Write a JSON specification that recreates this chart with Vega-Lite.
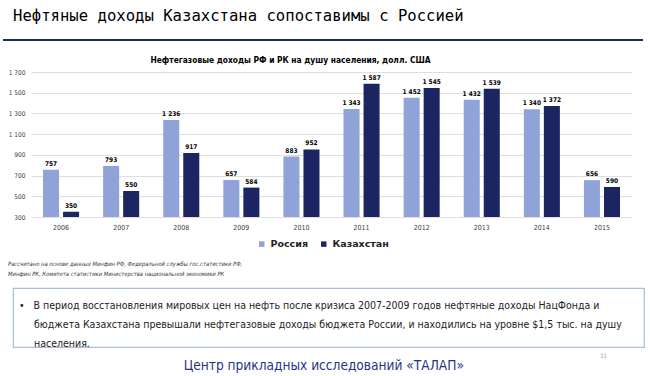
{
  "$schema": "https://vega.github.io/schema/vega-lite/v6.json",
  "background": "white",
  "padding": {"left": 3, "top": 9, "right": 7, "bottom": 0},
  "config": {
    "locale": {"number": {"decimal": ",", "thousands": " ", "grouping": [3], "currency": ["$", ""]}},
    "view": {"stroke": null},
    "font": "DejaVu Sans Condensed"
  },
  "title": {
    "text": "Центр прикладных исследований «ТАЛАП»",
    "orient": "bottom",
    "anchor": "middle",
    "offset": 0,
    "font": "Liberation Sans Narrow, DejaVu Sans Condensed",
    "fontSize": 13.6,
    "fontWeight": "normal",
    "color": "#1f3388"
  },
  "columns": 1,
  "spacing": 0,
  "resolve": {"legend": {"color": "independent"}},
  "concat": [
    {
      "width": 640,
      "height": 2,
      "view": {"fill": "#1c2772", "stroke": null},
      "title": {
        "text": "Нефтяные доходы Казахстана сопоставимы с Россией",
        "anchor": "start",
        "frame": "group",
        "dx": 10,
        "offset": 9,
        "font": "DejaVu Sans Mono",
        "fontSize": 15.6,
        "fontWeight": "normal",
        "color": "#000000"
      },
      "data": {"values": [{"t": ""}]},
      "mark": {"type": "text"},
      "encoding": {"text": {"field": "t"}}
    },
    {
      "width": 629,
      "height": 145,
      "title": {
        "text": "\u00a0",
        "fontSize": 6,
        "subtitle": "Нефтегазовые доходы РФ и РК на душу населения, долл. США",
        "subtitleFont": "DejaVu Sans Condensed",
        "subtitleFontWeight": "bold",
        "subtitleFontSize": 8.4,
        "subtitleColor": "#000000",
        "subtitlePadding": 4,
        "anchor": "middle",
        "frame": "group",
        "dx": -27,
        "offset": 5
      },
      "data": {
        "values": [
          {"year": "2006", "country": "Россия", "value": 757},
          {"year": "2006", "country": "Казахстан", "value": 350},
          {"year": "2007", "country": "Россия", "value": 793},
          {"year": "2007", "country": "Казахстан", "value": 550},
          {"year": "2008", "country": "Россия", "value": 1236},
          {"year": "2008", "country": "Казахстан", "value": 917},
          {"year": "2009", "country": "Россия", "value": 657},
          {"year": "2009", "country": "Казахстан", "value": 584},
          {"year": "2010", "country": "Россия", "value": 883},
          {"year": "2010", "country": "Казахстан", "value": 952},
          {"year": "2011", "country": "Россия", "value": 1343},
          {"year": "2011", "country": "Казахстан", "value": 1587},
          {"year": "2012", "country": "Россия", "value": 1452},
          {"year": "2012", "country": "Казахстан", "value": 1545},
          {"year": "2013", "country": "Россия", "value": 1432},
          {"year": "2013", "country": "Казахстан", "value": 1539},
          {"year": "2014", "country": "Россия", "value": 1340},
          {"year": "2014", "country": "Казахстан", "value": 1372},
          {"year": "2015", "country": "Россия", "value": 656},
          {"year": "2015", "country": "Казахстан", "value": 590}
        ]
      },
      "encoding": {
        "x": {
          "field": "year",
          "type": "ordinal",
          "scale": {"range": [28, 629], "paddingInner": 0.4, "paddingOuter": 0.2},
          "axis": {"title": null, "labelAngle": 0, "domain": false, "ticks": false, "labelPadding": 6, "labelFontSize": 7, "labelColor": "#404040"}
        },
        "xOffset": {"field": "country", "sort": ["Россия", "Казахстан"], "scale": {"paddingInner": 0.2, "paddingOuter": 0}},
        "y": {
          "field": "value",
          "type": "quantitative",
          "scale": {"domain": [300, 1700], "zero": false, "nice": false},
          "axis": {"title": null, "offset": -28, "values": [300, 500, 700, 900, 1100, 1300, 1500, 1700], "format": ",d", "grid": true, "gridColor": "#dedede", "domain": false, "ticks": false, "labelPadding": 6, "labelFontSize": 6.5, "labelColor": "#404040"}
        }
      },
      "layer": [
        {
          "mark": {"type": "bar"},
          "encoding": {
            "y2": {"datum": 300},
            "color": {
              "field": "country",
              "type": "nominal",
              "sort": ["Россия", "Казахстан"],
              "scale": {"domain": ["Россия", "Казахстан"], "range": ["#8fa3d8", "#1b2562"]},
              "legend": {
                "orient": "none",
                "legendX": 243,
                "legendY": 156,
                "direction": "horizontal",
                "title": null,
                "symbolType": "square",
                "symbolSize": 30,
                "symbolStrokeWidth": 0,
                "labelFont": "DejaVu Sans",
                "labelFontWeight": "bold",
                "labelFontSize": 9.5,
                "labelColor": "#222222",
                "columnPadding": 10,
                "labelOffset": 4,
                "padding": 11
              }
            }
          }
        },
        {
          "mark": {"type": "text", "baseline": "bottom", "dy": -3, "fontSize": 6.5, "fontWeight": "bold", "color": "#000000"},
          "encoding": {
            "text": {"field": "value", "type": "quantitative", "format": ",d"}
          }
        }
      ]
    },
    {
      "title": {
        "text": ["Рассчитано на основе данных Минфин РФ, Федеральной службы гос.статистики РФ,", "Минфин РК, Комитета статистики Министерства национальной экономики РК"],
        "anchor": "start",
        "frame": "group",
        "dx": 5,
        "offset": 11,
        "font": "DejaVu Sans Condensed",
        "fontStyle": "italic",
        "fontWeight": "normal",
        "fontSize": 5.8,
        "lineHeight": 10,
        "color": "#333333"
      },
      "spacing": 0,
      "hconcat": [
        {
          "width": 9,
          "height": 59,
          "data": {"values": [{"t": ""}]},
          "mark": {"type": "text"},
          "encoding": {"text": {"field": "t"}}
        },
        {
          "width": 631,
          "height": 59,
          "view": {"stroke": "#a9bddf", "strokeWidth": 1.2, "fill": "white"},
          "title": {
            "text": [
              "•\u00a0\u00a0\u00a0В период восстановления мировых цен на нефть после кризиса 2007-2009 годов нефтяные доходы НацФонда и",
              "\u200b\u00a0\u00a0\u00a0\u00a0\u00a0бюджета Казахстана превышали нефтегазовые доходы бюджета России, и находились на уровне $1,5 тыс. на душу",
              "\u200b\u00a0\u00a0\u00a0\u00a0\u00a0населения."
            ],
            "anchor": "start",
            "frame": "group",
            "dx": 6,
            "offset": -61,
            "font": "DejaVu Sans Condensed",
            "fontSize": 10.5,
            "fontWeight": "normal",
            "lineHeight": 19,
            "color": "#222222"
          },
          "data": {"values": [{"t": ""}]},
          "mark": {"type": "text"},
          "encoding": {"text": {"field": "t"}}
        }
      ]
    },
    {
      "width": 604,
      "height": 9,
      "data": {"values": [{"t": "11"}]},
      "mark": {"type": "text", "align": "right", "baseline": "bottom", "fontSize": 6, "color": "#9a9a9a"},
      "encoding": {"text": {"field": "t"}, "x": {"value": "width"}, "y": {"value": "height"}}
    }
  ]
}
